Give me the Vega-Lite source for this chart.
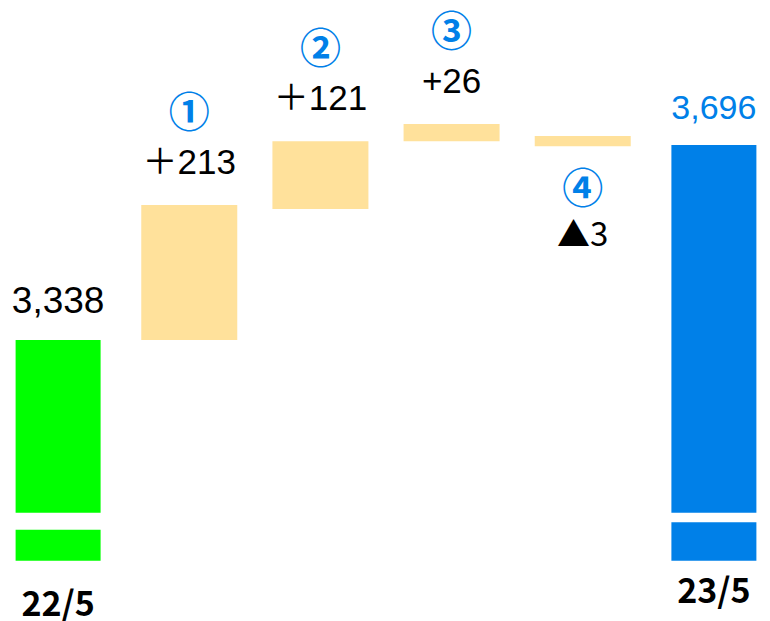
{
  "$schema": "https://vega.github.io/schema/vega-lite/v6.json",
  "width": 770,
  "height": 621,
  "padding": 0,
  "autosize": {"type": "none"},
  "config": {"view": {"stroke": null}},
  "datasets": {
    "bars": [
      {"cat": "22/5", "kind": "total", "lo": 3065, "hi": 3338},
      {"cat": "22/5", "kind": "total", "lo": 2989, "hi": 3038},
      {"cat": "①", "kind": "delta", "lo": 3338, "hi": 3551},
      {"cat": "②", "kind": "delta", "lo": 3545, "hi": 3652},
      {"cat": "③", "kind": "delta", "lo": 3652, "hi": 3679},
      {"cat": "④", "kind": "delta", "lo": 3644, "hi": 3660},
      {"cat": "23/5", "kind": "end", "lo": 3065, "hi": 3646},
      {"cat": "23/5", "kind": "end", "lo": 2989, "hi": 3050}
    ],
    "labels": [
      {"cat": "22/5", "text": "3,338", "top": 3338, "bottom": 2989, "group": "start"},
      {"cat": "①", "text": "＋213", "top": 3551, "bottom": 3338, "group": "up"},
      {"cat": "②", "text": "＋121", "top": 3652, "bottom": 3545, "group": "up"},
      {"cat": "③", "text": "+26", "top": 3679, "bottom": 3652, "group": "up"},
      {"cat": "④", "text": "▲3", "top": 3660, "bottom": 3644, "group": "down"},
      {"cat": "23/5", "text": "3,696", "top": 3646, "bottom": 2989, "group": "end"}
    ]
  },
  "encoding": {
    "x": {
      "field": "cat",
      "type": "nominal",
      "sort": ["22/5", "①", "②", "③", "④", "23/5"],
      "scale": {"range": [12, 760], "paddingInner": 0.297, "paddingOuter": 0},
      "axis": null
    }
  },
  "layer": [
    {
      "data": {"name": "bars"},
      "transform": [{"filter": "datum.kind !== 'delta'"}],
      "mark": {"type": "bar", "width": 85},
      "encoding": {
        "y": {"field": "lo", "type": "quantitative", "scale": {"domain": [2894, 3875], "zero": false, "nice": false}, "axis": null},
        "y2": {"field": "hi"},
        "color": {"field": "kind", "type": "nominal", "scale": {"domain": ["total", "delta", "end"], "range": ["#00FF00", "#FFE19B", "#0080E8"]}, "legend": null}
      }
    },
    {
      "data": {"name": "bars"},
      "transform": [{"filter": "datum.kind === 'delta'"}],
      "mark": {"type": "bar", "width": 96},
      "encoding": {
        "y": {"field": "lo", "type": "quantitative"},
        "y2": {"field": "hi"},
        "color": {"field": "kind", "type": "nominal", "legend": null}
      }
    },
    {
      "data": {"name": "labels"},
      "transform": [{"filter": "datum.group === 'start'"}],
      "mark": {"type": "text", "font": "Liberation Sans, Noto Sans CJK JP", "fontSize": 37, "baseline": "alphabetic", "dy": -27, "color": "#000000"},
      "encoding": {"y": {"field": "top", "type": "quantitative"}, "text": {"field": "text"}}
    },
    {
      "data": {"name": "labels"},
      "transform": [{"filter": "datum.group === 'end'"}],
      "mark": {"type": "text", "font": "Liberation Sans, Noto Sans CJK JP", "fontSize": 34, "baseline": "alphabetic", "dy": -26, "color": "#0080E8"},
      "encoding": {"y": {"field": "top", "type": "quantitative"}, "text": {"field": "text"}}
    },
    {
      "data": {"name": "labels"},
      "transform": [{"filter": "datum.group === 'up'"}],
      "mark": {"type": "text", "font": "Liberation Sans, Noto Sans CJK JP", "fontSize": 35, "baseline": "alphabetic", "dy": -31, "color": "#000000"},
      "encoding": {"y": {"field": "top", "type": "quantitative"}, "text": {"field": "text"}}
    },
    {
      "data": {"name": "labels"},
      "transform": [{"filter": "datum.group === 'up'"}],
      "mark": {"type": "text", "font": "Noto Sans CJK JP", "fontWeight": "bold", "fontSize": 41, "baseline": "middle", "dy": -90, "color": "#0080E8"},
      "encoding": {"y": {"field": "top", "type": "quantitative"}, "text": {"field": "cat"}}
    },
    {
      "data": {"name": "labels"},
      "transform": [{"filter": "datum.group === 'down'"}],
      "mark": {"type": "text", "font": "Noto Sans CJK JP", "fontWeight": "bold", "fontSize": 41, "baseline": "middle", "dy": 45, "color": "#0080E8"},
      "encoding": {"y": {"field": "bottom", "type": "quantitative"}, "text": {"field": "cat"}}
    },
    {
      "data": {"name": "labels"},
      "transform": [{"filter": "datum.group === 'down'"}],
      "mark": {"type": "text", "font": "Noto Sans CJK JP", "fontSize": 33, "baseline": "alphabetic", "dy": 100, "color": "#000000"},
      "encoding": {"y": {"field": "bottom", "type": "quantitative"}, "text": {"field": "text"}}
    },
    {
      "data": {"name": "labels"},
      "transform": [{"filter": "datum.group === 'start'"}],
      "mark": {"type": "text", "font": "Noto Sans CJK JP", "fontWeight": "bold", "fontSize": 34, "baseline": "alphabetic", "dy": 55, "color": "#000000"},
      "encoding": {"y": {"field": "bottom", "type": "quantitative"}, "text": {"field": "cat"}}
    },
    {
      "data": {"name": "labels"},
      "transform": [{"filter": "datum.group === 'end'"}],
      "mark": {"type": "text", "font": "Noto Sans CJK JP", "fontWeight": "bold", "fontSize": 34, "baseline": "alphabetic", "dy": 42, "color": "#000000"},
      "encoding": {"y": {"field": "bottom", "type": "quantitative"}, "text": {"field": "cat"}}
    }
  ]
}
